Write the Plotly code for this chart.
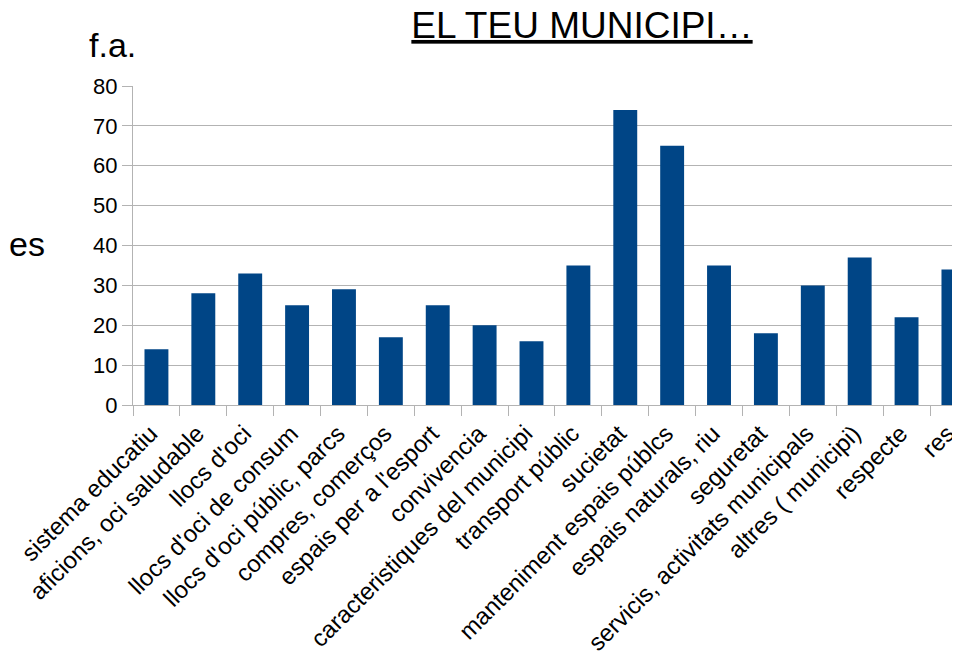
import plotly.graph_objects as go

categories = [
    "sistema educatiu",
    "aficions, oci saludable",
    "llocs d'oci",
    "llocs d'oci de consum",
    "llocs d'oci públic, parcs",
    "compres, comerços",
    "espais per a l'esport",
    "convivencia",
    "caracteristiques del municipi",
    "transport públic",
    "sucietat",
    "manteniment espais públcs",
    "espais naturals, riu",
    "seguretat",
    "servicis, activitats municipals",
    "altres ( municipi)",
    "respecte",
    "res",
]
values = [14, 28, 33, 25, 29, 17, 25, 20, 16, 35, 74, 65, 35, 18, 30, 37, 22, 34]

FONT = "Liberation Sans"
GRID = "#b3b3b3"

# the page adds an 8px body margin, so the figure is a bit smaller than the window
W, H = 952, 647
L, T, B = 124.5, 78, 250
PW, PH = W - L, H - T - B


def px_x(x):
    # page x -> paper x
    return (x - 8 - L) / PW


def px_y(y):
    # page y -> paper y
    return (H - B - (y - 8)) / PH


fig = go.Figure()
fig.add_trace(go.Bar(
    x=categories,
    y=values,
    marker=dict(color="#004586", line=dict(width=0)),
    showlegend=False,
))

fig.update_layout(
    width=W,
    height=H,
    margin=dict(l=L, r=0, t=T, b=B, pad=0),
    paper_bgcolor="white",
    plot_bgcolor="white",
    font=dict(family=FONT, color="black"),
    bargap=0.49,
    title=dict(
        text="<u>EL TEU MUNICIPI…</u>",
        font=dict(size=37, family=FONT, color="black"),
        xref="container", x=(582 - 8) / W, xanchor="center",
        yref="container", y=1 - (25 - 8) / H, yanchor="middle",
        automargin=False,
    ),
    xaxis=dict(
        type="category",
        range=[-0.5, 17.14],
        tickson="boundaries",
        ticks="outside",
        ticklen=10,
        tickcolor=GRID,
        showline=True,
        linecolor=GRID,
        showgrid=False,
        tickangle=-45,
        ticklabelshift=-6,
        ticklabelstandoff=4,
        automargin=False,
        tickfont=dict(size=24, family=FONT, color="black"),
    ),
    yaxis=dict(
        range=[0, 80],
        dtick=10,
        ticks="outside",
        ticklen=10,
        tickcolor=GRID,
        showline=True,
        linecolor=GRID,
        showgrid=True,
        gridcolor=GRID,
        zeroline=False,
        automargin=False,
        tickfont=dict(size=22, family=FONT, color="black"),
    ),
    annotations=[
        dict(text="f.a.", xref="paper", yref="paper",
             x=px_x(112), y=px_y(45),
             xanchor="center", yanchor="middle", showarrow=False,
             font=dict(size=34, family=FONT, color="black")),
        dict(text="es", xref="paper", yref="paper",
             x=px_x(6), y=px_y(244),
             xanchor="left", yanchor="middle", showarrow=False,
             font=dict(size=34, family=FONT, color="black")),
    ],
)

fig.write_html("out.html")
